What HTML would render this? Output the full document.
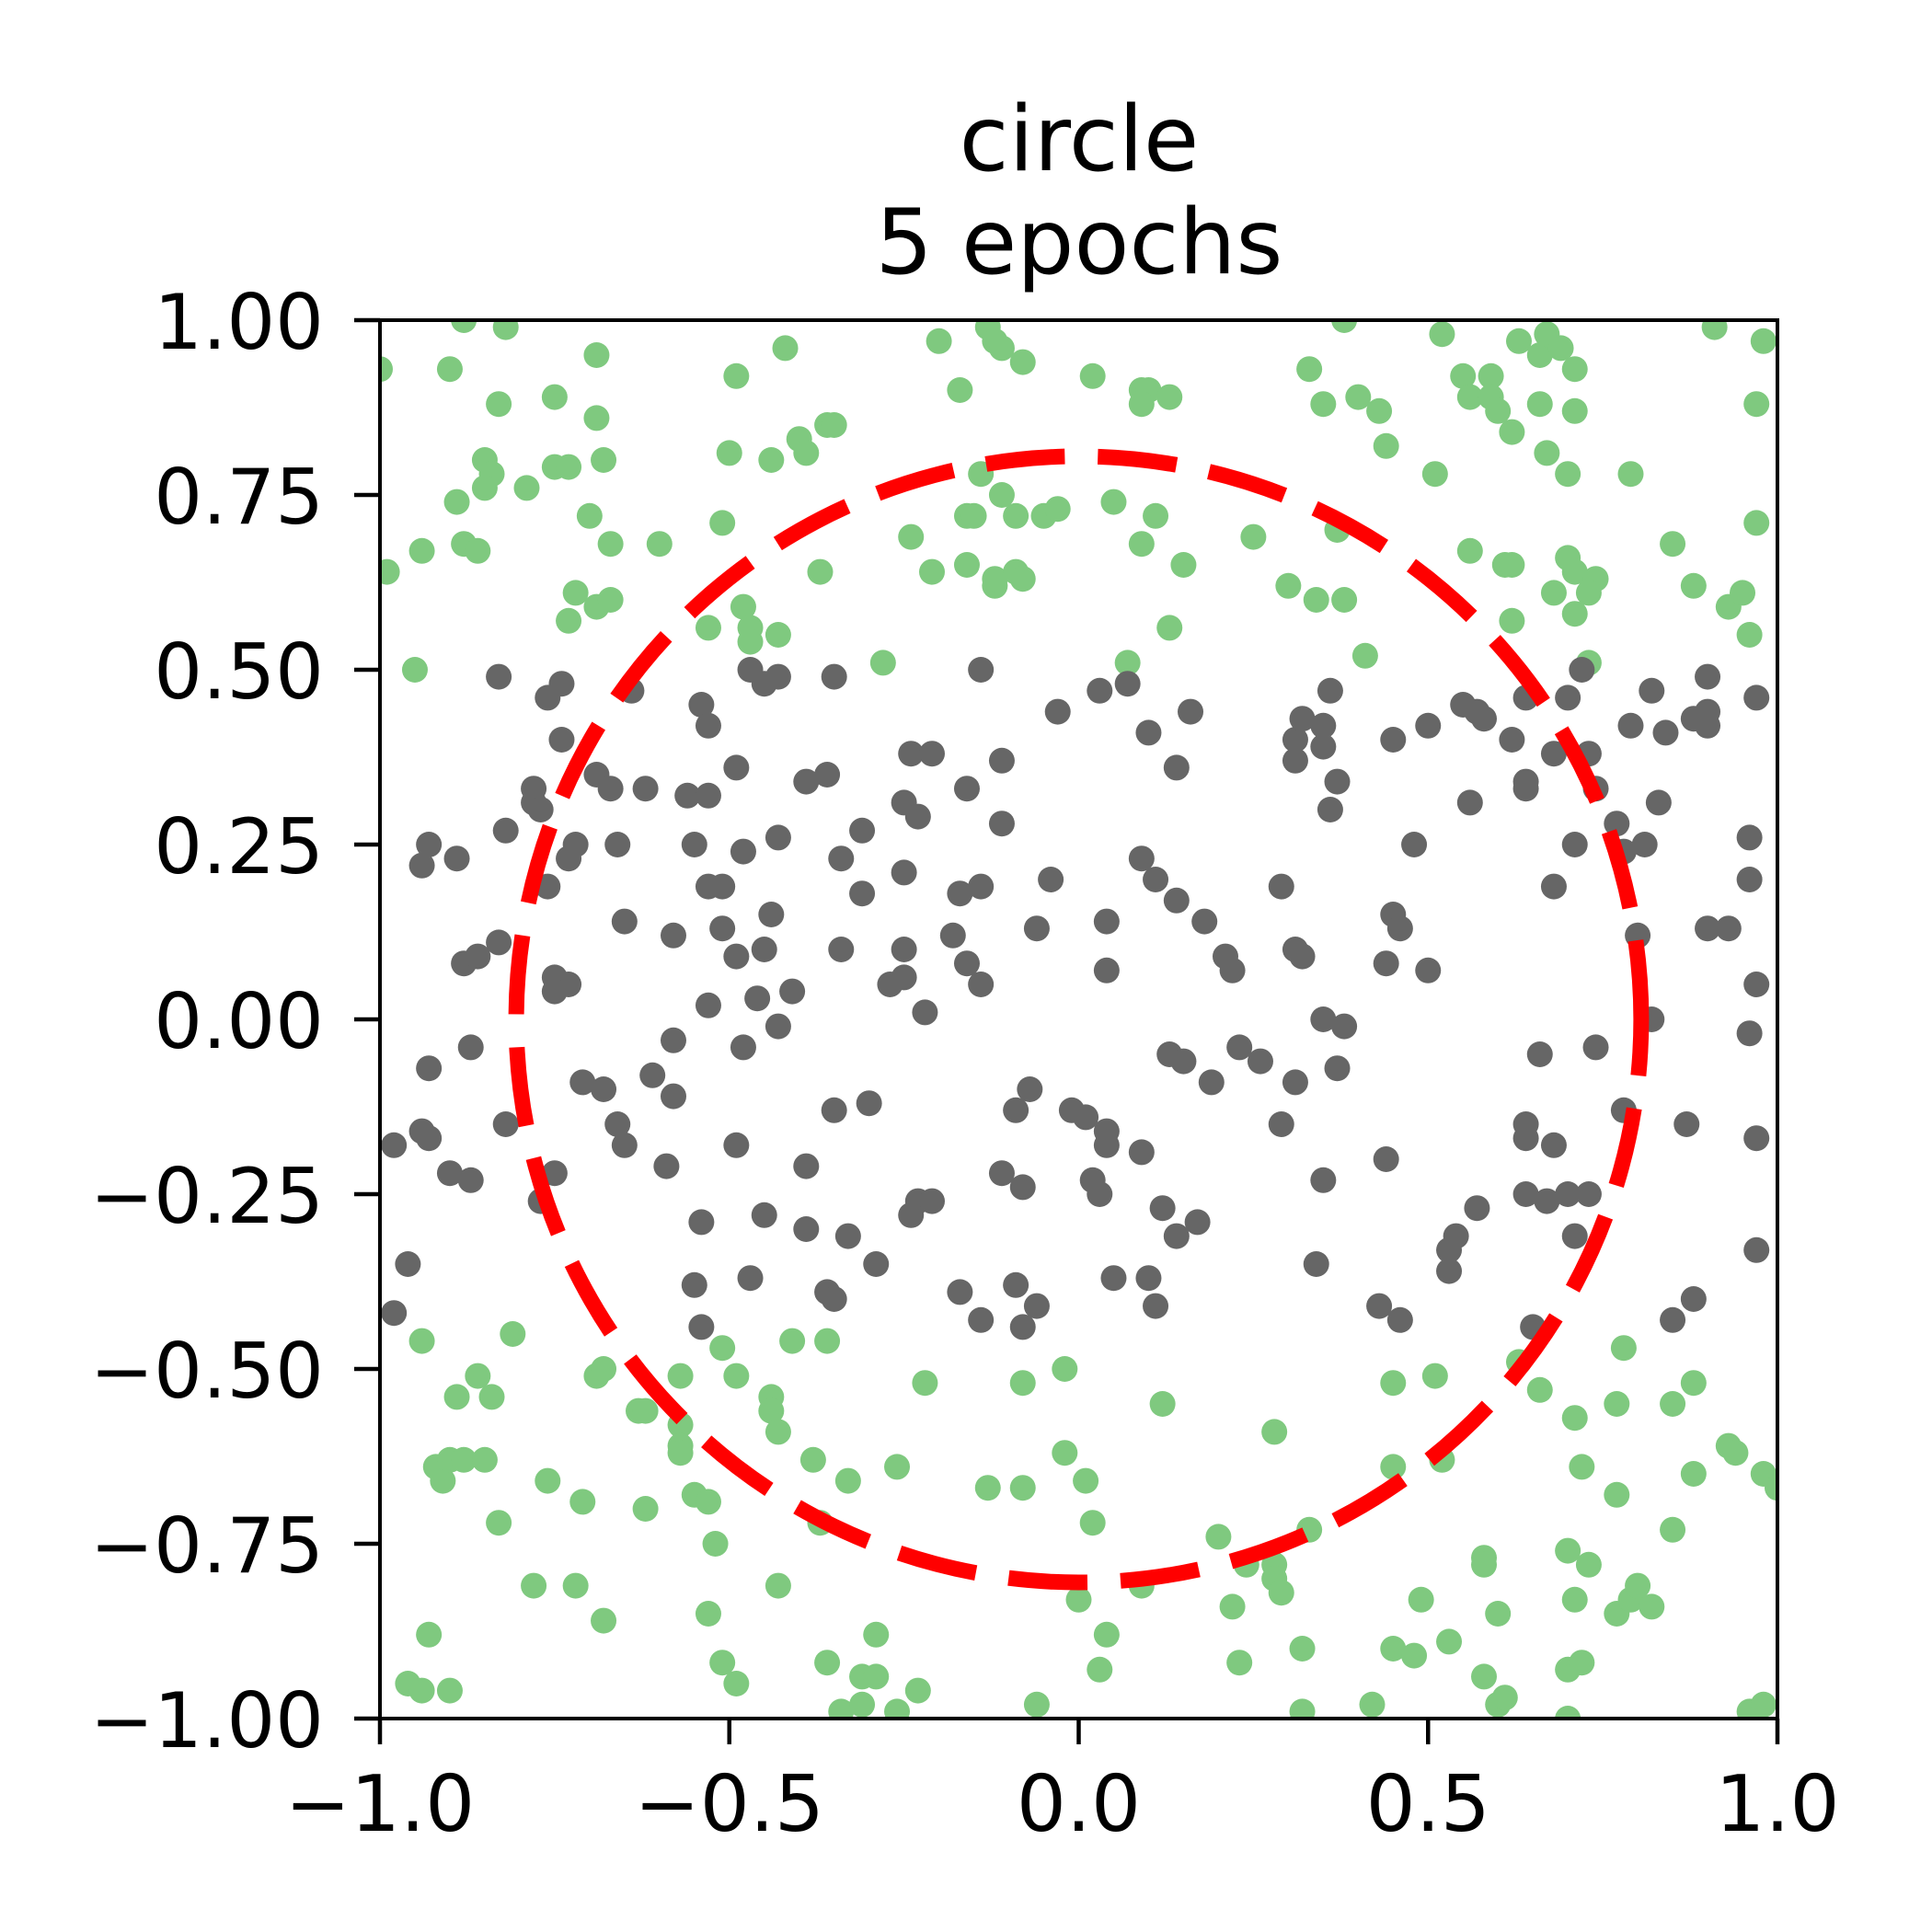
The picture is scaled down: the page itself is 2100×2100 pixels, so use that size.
<!DOCTYPE html>
<html><head><meta charset="utf-8"><style>
html,body{margin:0;padding:0;background:#fff;}
svg{display:block;font-family:"DejaVu Sans","Liberation Sans",sans-serif;}
</style></head><body>
<svg id="chart" width="2100" height="2100" viewBox="0 0 2100 2100" xmlns="http://www.w3.org/2000/svg">
<rect width="2100" height="2100" fill="#fff"/>
<text x="1173" y="185" font-size="98" text-anchor="middle">circle</text>
<text x="1173" y="297" font-size="98" text-anchor="middle">5 epochs</text>
<g id="plot"></g>
</svg>
<script>
const xTicks = [-1.0, -0.5, 0.0, 0.5, 1.0];
const xTickLabels = ["\u22121.0", "\u22120.5", "0.0", "0.5", "1.0"];
const yTicks = [-1.0, -0.75, -0.5, -0.25, 0.0, 0.25, 0.5, 0.75, 1.0];
const yTickLabels = ["\u22121.00", "\u22120.75", "\u22120.50", "\u22120.25", "0.00", "0.25", "0.50", "0.75", "1.00"];
const circleCenter = [0.0, 0.0];
const circleRadius = 0.805;
const insideX = [-0.83,-0.76,-0.74,-0.74,-0.78,-0.78,-0.77,-0.82,-0.93,-0.94,-0.89,-0.88,-0.86,-0.83,-0.87,-0.93,-0.75,-0.73,-0.75,-0.76,-0.72,-0.73,-0.69,-0.67,-0.66,-0.65,-0.64,-0.62,-0.71,-0.68,-0.66,-0.65,-0.98,-0.94,-0.93,-0.90,-0.87,-0.82,-0.75,-0.77,-0.96,-0.98,-0.61,-0.58,-0.59,-0.58,-0.58,-0.56,-0.53,-0.54,-0.53,-0.55,-0.53,-0.51,-0.51,-0.49,-0.53,-0.48,-0.48,-0.49,-0.47,-0.45,-0.43,-0.44,-0.45,-0.46,-0.43,-0.41,-0.43,-0.39,-0.36,-0.35,-0.34,-0.31,-0.31,-0.34,-0.49,-0.39,-0.35,-0.30,-0.54,-0.45,-0.39,-0.33,-0.55,-0.54,-0.47,-0.36,-0.35,-0.29,-0.24,-0.23,-0.21,-0.25,-0.23,-0.24,-0.21,-0.25,-0.25,-0.27,-0.25,-0.22,-0.17,-0.14,-0.18,-0.16,-0.14,-0.16,-0.11,-0.11,-0.14,-0.06,-0.04,-0.03,-0.07,-0.09,-0.11,-0.08,-0.17,-0.14,-0.09,-0.08,-0.06,-0.01,0.01,0.04,0.04,0.02,0.03,0.05,0.10,0.11,0.09,0.12,0.14,0.17,0.13,0.15,0.19,0.04,0.04,0.09,0.11,0.14,0.18,0.21,0.22,0.23,0.26,0.03,0.07,0.10,0.14,0.16,0.29,0.31,0.32,0.31,0.29,0.35,0.38,0.37,0.35,0.34,0.31,0.31,0.32,0.35,0.35,0.36,0.37,0.36,0.45,0.50,0.48,0.45,0.46,0.44,0.50,0.44,0.43,0.46,0.55,0.57,0.58,0.56,0.62,0.64,0.64,0.64,0.70,0.72,0.68,0.73,0.74,0.71,0.68,0.77,0.78,0.81,0.80,0.82,0.74,0.78,0.66,0.64,0.64,0.68,0.64,0.67,0.70,0.73,0.71,0.65,0.57,0.54,0.53,0.53,0.79,0.82,0.84,0.83,0.88,0.90,0.90,0.90,0.96,0.96,0.97,0.90,0.93,0.97,0.96,0.97,0.97,0.87,0.88,0.85];
const insideY = [0.49,0.46,0.48,0.40,0.33,0.31,0.30,0.27,0.25,0.22,0.23,0.08,0.09,0.11,-0.04,-0.07,0.06,0.05,0.04,0.19,0.25,0.23,0.35,0.33,0.25,0.14,0.47,0.33,-0.09,-0.10,-0.15,-0.18,-0.18,-0.16,-0.17,-0.22,-0.23,-0.15,-0.22,-0.26,-0.35,-0.42,-0.08,-0.11,-0.21,-0.03,0.12,0.32,0.32,0.45,0.42,0.25,0.19,0.19,0.13,0.09,0.02,-0.04,0.24,0.36,0.50,0.48,0.49,0.15,0.10,0.03,-0.01,0.04,0.26,0.34,0.35,0.49,0.23,0.27,0.18,0.10,-0.18,-0.21,-0.13,-0.12,-0.29,-0.28,-0.30,-0.31,-0.38,-0.44,-0.37,-0.39,-0.40,-0.35,-0.28,-0.26,-0.26,0.31,0.29,0.38,0.38,0.21,0.10,0.05,0.06,0.01,0.18,0.19,0.12,0.08,0.05,0.33,0.28,0.37,0.50,0.13,0.20,0.44,-0.10,-0.13,-0.22,-0.24,-0.39,-0.43,-0.38,-0.44,-0.41,-0.13,-0.14,-0.16,-0.18,-0.23,-0.25,-0.37,-0.37,-0.41,-0.19,-0.27,-0.31,-0.29,-0.05,-0.06,-0.09,0.14,0.07,0.23,0.20,0.17,0.14,0.09,0.07,-0.04,-0.06,0.47,0.48,0.41,0.36,0.44,0.19,0.10,0.09,-0.09,-0.15,0.00,-0.01,-0.07,-0.23,-0.35,0.37,0.40,0.43,0.39,0.42,0.47,0.34,0.30,0.40,0.42,0.25,0.15,0.13,0.08,0.07,-0.20,-0.41,-0.43,0.45,0.44,0.43,0.31,0.40,0.46,0.34,0.33,0.46,0.50,0.38,0.38,0.33,0.25,0.19,0.28,0.24,0.25,0.12,0.00,-0.04,-0.13,-0.05,-0.15,-0.17,-0.18,-0.25,-0.26,-0.25,-0.25,-0.31,-0.44,-0.27,-0.31,-0.33,-0.36,0.42,0.47,0.41,0.31,0.43,0.44,0.49,0.42,0.26,0.20,0.46,0.13,0.13,0.05,-0.02,-0.17,-0.33,-0.15,-0.40,-0.43];
const outsideX = [-1.00,-0.88,-0.82,-0.90,-0.83,-0.75,-0.69,-0.69,-0.68,-0.85,-0.84,-0.85,-0.89,-0.79,-0.75,-0.73,-0.70,-0.67,-0.88,-0.86,-0.94,-0.99,-0.72,-0.69,-0.67,-0.73,-0.95,-0.60,-0.51,-0.50,-0.49,-0.42,-0.44,-0.40,-0.39,-0.36,-0.35,-0.37,-0.48,-0.47,-0.47,-0.43,-0.53,-0.28,-0.24,-0.21,-0.20,-0.17,-0.16,-0.15,-0.16,-0.14,-0.13,-0.12,-0.11,-0.08,-0.11,-0.09,-0.12,-0.12,-0.09,-0.08,-0.05,-0.03,0.02,0.09,0.10,0.09,0.13,0.05,0.11,0.09,0.15,0.13,0.07,0.25,0.30,0.34,0.38,0.37,0.33,0.35,0.38,0.40,0.43,0.44,0.41,0.51,0.52,0.56,0.55,0.56,0.59,0.59,0.62,0.60,0.61,0.62,0.62,0.63,0.66,0.66,0.67,0.69,0.71,0.71,0.67,0.70,0.70,0.71,0.68,0.74,0.73,0.71,0.73,0.79,0.85,0.88,0.91,0.93,0.95,0.96,0.97,0.98,0.97,-0.81,-0.94,-0.86,-0.84,-0.89,-0.69,-0.68,-0.63,-0.62,-0.57,-0.57,-0.57,-0.57,-0.51,-0.49,-0.44,-0.44,-0.43,-0.41,-0.36,-0.92,-0.91,-0.90,-0.88,-0.85,-0.83,-0.76,-0.71,-0.62,-0.55,-0.53,-0.52,-0.38,-0.33,-0.37,-0.26,-0.22,-0.13,-0.08,-0.08,-0.02,-0.02,0.01,0.02,0.12,0.28,0.45,0.51,0.45,0.52,0.63,0.66,0.71,0.72,0.78,0.77,0.85,0.88,0.77,0.88,0.93,0.94,0.98,1.00,0.85,-0.78,-0.72,-0.68,-0.53,-0.43,-0.93,-0.96,-0.94,-0.90,-0.51,-0.49,-0.36,-0.31,-0.29,-0.29,-0.34,-0.31,-0.26,-0.23,-0.06,0.00,0.04,0.03,0.09,0.20,0.24,0.28,0.28,0.29,0.22,0.23,0.32,0.32,0.33,0.42,0.45,0.48,0.49,0.53,0.58,0.58,0.58,0.60,0.60,0.61,0.70,0.73,0.71,0.70,0.72,0.70,0.77,0.79,0.80,0.82,0.96,0.98];
const outsideY = [0.93,1.00,0.99,0.93,0.88,0.89,0.95,0.86,0.80,0.80,0.78,0.76,0.74,0.76,0.79,0.79,0.72,0.68,0.68,0.67,0.67,0.64,0.61,0.59,0.60,0.57,0.50,0.68,0.71,0.81,0.92,0.96,0.80,0.83,0.81,0.85,0.85,0.64,0.59,0.56,0.54,0.55,0.56,0.51,0.69,0.64,0.97,0.90,0.72,0.72,0.65,0.78,0.99,0.97,0.96,0.94,0.75,0.72,0.62,0.63,0.64,0.63,0.72,0.73,0.92,0.90,0.90,0.88,0.89,0.74,0.72,0.68,0.65,0.56,0.51,0.69,0.62,0.60,0.60,0.70,0.93,0.88,1.00,0.89,0.87,0.82,0.52,0.78,0.98,0.67,0.92,0.89,0.92,0.89,0.84,0.87,0.65,0.65,0.57,0.97,0.95,0.88,0.98,0.96,0.93,0.87,0.81,0.78,0.66,0.64,0.61,0.63,0.61,0.58,0.51,0.78,0.68,0.62,0.99,0.59,0.61,0.55,0.88,0.97,0.71,-0.45,-0.46,-0.51,-0.54,-0.54,-0.51,-0.50,-0.56,-0.56,-0.51,-0.58,-0.61,-0.62,-0.47,-0.51,-0.54,-0.56,-0.59,-0.46,-0.46,-0.64,-0.66,-0.63,-0.63,-0.63,-0.72,-0.66,-0.69,-0.70,-0.68,-0.69,-0.75,-0.63,-0.66,-0.72,-0.64,-0.52,-0.67,-0.52,-0.67,-0.50,-0.62,-0.66,-0.72,-0.55,-0.59,-0.52,-0.51,-0.64,-0.63,-0.49,-0.53,-0.57,-0.64,-0.47,-0.55,-0.55,-0.52,-0.68,-0.65,-0.61,-0.62,-0.65,-0.67,-0.73,-0.81,-0.81,-0.86,-0.85,-0.81,-0.88,-0.95,-0.96,-0.96,-0.92,-0.95,-0.92,-0.94,-0.94,-0.88,-0.99,-0.98,-0.99,-0.96,-0.98,-0.83,-0.88,-0.93,-0.81,-0.74,-0.78,-0.78,-0.80,-0.82,-0.84,-0.92,-0.90,-0.99,-0.73,-0.98,-0.90,-0.91,-0.83,-0.89,-0.94,-0.77,-0.78,-0.85,-0.98,-0.97,-0.76,-0.78,-0.83,-0.93,-0.92,-1.00,-0.85,-0.83,-0.81,-0.84,-0.99,-0.98];

const L=413, R=1932, T=348, B=1868;
const xScale = v => L + (v + 1) / 2 * (R - L);
const yScale = v => B - (v + 1) / 2 * (B - T);
const NS = "http://www.w3.org/2000/svg";
const plot = document.getElementById('plot');
function mk(tag, attrs, parent){ const e=document.createElementNS(NS,tag); for(const k in attrs) e.setAttribute(k,attrs[k]); (parent||plot).appendChild(e); return e; }

const clip = mk('clipPath',{id:'axclip'});
mk('rect',{x:L,y:T,width:R-L,height:B-T},clip);
const gOut = mk('g',{'clip-path':'url(#axclip)'});


for(let i=0;i<outsideX.length;i++){
  const c = mk('circle',{cx:xScale(outsideX[i]),cy:yScale(outsideY[i]),r:14,fill:'#7fc97f'},gOut);
  
  
}
const gIn = mk('g',{'clip-path':'url(#axclip)'});


for(let i=0;i<insideX.length;i++){
  const c = mk('circle',{cx:xScale(insideX[i]),cy:yScale(insideY[i]),r:14,fill:'#666666'},gIn);
  
  
}
const cx = xScale(circleCenter[0]), cy = yScale(circleCenter[1]);
const rx = xScale(circleRadius) - xScale(0), ry = yScale(0) - yScale(circleRadius);
const pathD = `M ${cx+rx} ${cy} A ${rx} ${ry} 0 1 0 ${cx-rx} ${cy} A ${rx} ${ry} 0 1 0 ${cx+rx} ${cy}`;
const circ = mk('path',{d:pathD,fill:'none',stroke:'#ff0000','stroke-width':17,'stroke-dasharray':'86 36'});



const frame = mk('rect',{x:L,y:T,width:R-L,height:B-T,fill:'none',stroke:'#000','stroke-width':4});



for(let i=0;i<xTicks.length;i++){
  const x = xScale(xTicks[i]);
  const t = mk('line',{x1:x,x2:x,y1:B,y2:B+28,stroke:'#000','stroke-width':4.5});
  
  
  const lb = mk('text',{x:x,y:1990,'font-size':85,'text-anchor':'middle'});
  lb.textContent = xTickLabels[i];
  
  
}
for(let i=0;i<yTicks.length;i++){
  const y = yScale(yTicks[i]);
  const t = mk('line',{x1:L-28,x2:L,y1:y,y2:y,stroke:'#000','stroke-width':4.5});
  
  
  const lb = mk('text',{x:352,y:y+31,'font-size':83,'text-anchor':'end'});
  lb.textContent = yTickLabels[i];
  
  
}
</script>
</body></html>
